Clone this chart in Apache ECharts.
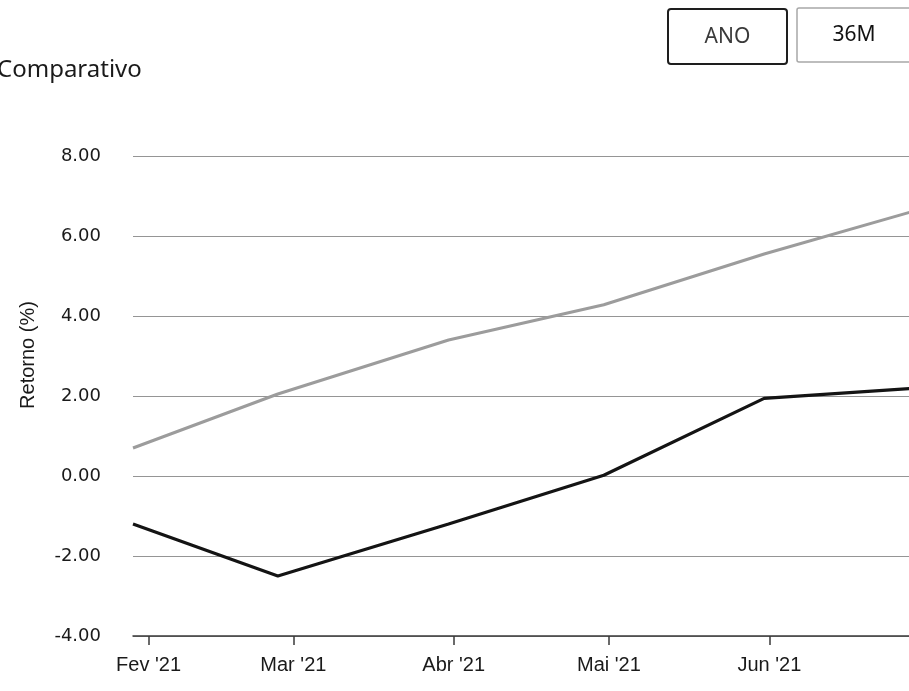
<!DOCTYPE html>
<html><head><meta charset="utf-8">
<script src="https://cdn.jsdelivr.net/npm/echarts@6/dist/echarts.min.js"></script>
<style>html,body{margin:0;padding:0;background:#fff;overflow:hidden}#c{width:909px;height:691px}</style>
</head><body><div id="c"></div>
<script>
// ---- data ----
const dates = ['2021-01-29', '2021-02-26', '2021-03-31', '2021-04-30', '2021-05-31', '2021-06-30'];
const fundo = [-1.20, -2.50, -1.20, 0.02, 1.94, 2.20];        // black line
const benchmark = [0.70, 2.05, 3.40, 4.28, 5.55, 6.66];       // grey line
const monthTicks = ['2021-02-01', '2021-03-01', '2021-04-01', '2021-05-01', '2021-06-01'];
const monthLabels = ["Fev '21", "Mar '21", "Abr '21", "Mai '21", "Jun '21"];
const xWindow = ['2021-01-29', '2021-06-28'];   // visible date window (chart is cropped at the right)
const yMin = -4, yMax = 8, yStep = 2;
const titleText = 'Comparativo';
const yName = 'Retorno (%)';
const buttons = ['ANO', '36M'];

const ts = d => new Date(d + 'T00:00:00Z').getTime();
const tickTs = monthTicks.map(ts);
const labelOf = {};
tickTs.forEach((t, i) => { labelOf[t] = monthLabels[i]; });

const chart = echarts.init(document.getElementById('c'), null, {renderer: 'canvas'});
chart.setOption({
  backgroundColor: '#ffffff',
  animation: false,
  grid: {left: 133, right: 0, top: 156, bottom: 55, containLabel: false},
  xAxis: {
    type: 'value',
    min: ts(xWindow[0]),
    max: ts(xWindow[1]),
    axisLine: {show: true, onZero: false, lineStyle: {color: '#3a3a3a', width: 1.5}},
    axisTick: {show: true, length: 9, customValues: tickTs, lineStyle: {color: '#3a3a3a', width: 1.5}},
    axisLabel: {
      customValues: tickTs,
      margin: 19,
      color: '#1a1a1a',
      fontFamily: 'Liberation Sans, Arial, sans-serif',
      fontSize: 20,
      formatter: v => labelOf[v] || ''
    },
    splitLine: {show: false}
  },
  yAxis: {
    type: 'value',
    min: yMin, max: yMax, interval: yStep,
    axisLine: {show: false},
    axisTick: {show: false},
    axisLabel: {
      margin: 32,
      color: '#1a1a1a',
      fontFamily: 'DejaVu Sans, Verdana, sans-serif',
      fontSize: 18,
      formatter: v => v.toFixed(2)
    },
    splitLine: {show: true, lineStyle: {color: '#959595', width: 1}}
  },
  series: [
    {
      name: 'Benchmark', type: 'line', showSymbol: false, symbol: 'none', clip: true,
      data: dates.map((d, i) => [ts(d), benchmark[i]]),
      lineStyle: {color: '#9c9c9c', width: 3}, z: 3
    },
    {
      name: 'Fundo', type: 'line', showSymbol: false, symbol: 'none', clip: true,
      data: dates.map((d, i) => [ts(d), fundo[i]]),
      lineStyle: {color: '#141414', width: 3.2}, z: 4
    }
  ],
  graphic: [
    {type: 'text', left: -3, top: 58,
     style: {text: titleText, fill: '#1a1a1a', font: '24px "Noto Sans", "Open Sans", sans-serif'}},
    {type: 'text', x: 28, y: 355, rotation: Math.PI / 2,
     style: {text: yName, fill: '#1a1a1a', font: '20px "Liberation Sans", Arial, sans-serif',
             align: 'center', verticalAlign: 'middle'}},
    {type: 'rect', shape: {x: 668, y: 9, width: 119, height: 55, r: 3},
     style: {fill: '#fff', stroke: '#1e1e1e', lineWidth: 2}},
    {type: 'text', x: 727.5, y: 37,
     style: {text: buttons[0], fill: '#3a3a3a', font: '21px "Noto Sans", "Open Sans", sans-serif',
             align: 'center', verticalAlign: 'middle'}},
    {type: 'rect', shape: {x: 797, y: 8, width: 119, height: 54, r: 2},
     style: {fill: '#fff', stroke: '#a8a8a8', lineWidth: 1.5}},
    {type: 'text', x: 854, y: 35,
     style: {text: buttons[1], fill: '#111', font: '21px "Noto Sans", "Open Sans", sans-serif',
             align: 'center', verticalAlign: 'middle'}}
  ]
});
</script>
</body></html>
